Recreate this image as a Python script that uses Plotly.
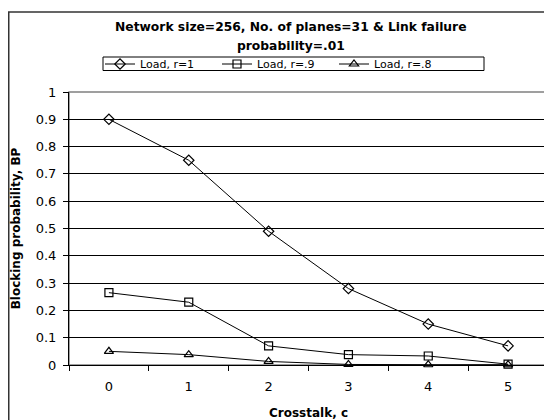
import plotly.graph_objects as go

crosstalk = ["0", "1", "2", "3", "4", "5"]
bp_r1 = [0.90, 0.75, 0.49, 0.28, 0.15, 0.07]
bp_r09 = [0.265, 0.23, 0.07, 0.038, 0.033, 0.003]
bp_r08 = [0.05, 0.038, 0.013, 0.002, 0.001, 0.001]
series_names = ["Load, r=1", "Load, r=.9", "Load, r=.8"]
y_ticks = [0, 0.1, 0.2, 0.3, 0.4, 0.5, 0.6, 0.7, 0.8, 0.9, 1]

FONT = "DejaVu Sans, Arial, sans-serif"
OFF = 8  # default page body margin
W, H = 552 - OFF, 420 - OFF
ML, MR, MT, MB = 69 - OFF, 4, 92 - OFF, 55

fig = go.Figure()
symbols = ["diamond-open", "square-open", "triangle-up-open"]
for name, vals, sym in zip(series_names, [bp_r1, bp_r09, bp_r08], symbols):
    fig.add_trace(go.Scatter(
        x=crosstalk, y=vals, name=name, mode="lines+markers",
        line=dict(color="black", width=1),
        marker=dict(symbol=sym, size=8, color="black", line=dict(width=1.2, color="black")),
        cliponaxis=False,
    ))

pw = W - ML - MR
ph = H - MT - MB
def px_x(p):
    return (p - OFF - ML) / pw
def px_y(p):
    return (H - MB - (p - OFF)) / ph

fig.update_layout(
    template="none",
    width=W, height=H, autosize=False,
    margin=dict(l=ML, r=MR, t=MT, b=MB, pad=0),
    paper_bgcolor="white", plot_bgcolor="white",
    font=dict(family=FONT, size=12, color="black"),
    showlegend=True,
    legend=dict(
        orientation="h", x=px_x(100), xanchor="left", y=px_y(64), yanchor="middle",
        borderwidth=0, font=dict(size=11, family=FONT),
        itemwidth=30, tracegroupgap=0, bgcolor="rgba(0,0,0,0)",
        entrywidth=72, entrywidthmode="pixels",
    ),
    xaxis=dict(
        type="category", range=[-0.5, 5.5], tickson="boundaries", automargin=False,
        ticks="outside", ticklen=5, tickcolor="black", showline=True,
        linecolor="black", linewidth=1, showgrid=False, zeroline=False,
        tickfont=dict(size=13, family=FONT), ticklabelstandoff=9,
        title=dict(text="<b>Crosstalk, c</b>", font=dict(size=12, family=FONT), standoff=18),
    ),
    yaxis=dict(
        range=[0, 1], tickvals=y_ticks, ticks="outside", ticklen=5, tickcolor="black",
        showline=True, linecolor="black", linewidth=1, showgrid=True, automargin=False,
        gridcolor="black", gridwidth=1, zeroline=False, ticklabelstandoff=4,
        tickfont=dict(size=13, family=FONT),
        title=dict(text="<b>Blocking probability, BP</b>", font=dict(size=12, family=FONT), standoff=12),
    ),
    shapes=[
        dict(type="rect", xref="paper", yref="paper", x0=0, x1=1, y0=0, y1=1,
             line=dict(color="#808080", width=1.5), layer="below"),
        dict(type="rect", xref="paper", yref="paper", x0=px_x(8.75), x1=px_x(570),
             y0=px_y(440), y1=px_y(12), line=dict(color="#333333", width=1.5), layer="below"),
        dict(type="rect", xref="paper", yref="paper", x0=px_x(103), x1=px_x(484),
             y0=px_y(70.5), y1=px_y(57), line=dict(color="black", width=1), layer="below"),
    ],
    annotations=[
        dict(text="<b>Network size=256, No. of planes=31 & Link failure</b>", xref="paper", yref="paper",
             x=px_x(291), y=px_y(27), xanchor="center", yanchor="middle", showarrow=False,
             font=dict(size=12.3, family=FONT)),
        dict(text="<b>probability=.01</b>", xref="paper", yref="paper",
             x=px_x(291), y=px_y(46), xanchor="center", yanchor="middle", showarrow=False,
             font=dict(size=12.3, family=FONT)),
    ],
)

fig.write_html("out.html")
